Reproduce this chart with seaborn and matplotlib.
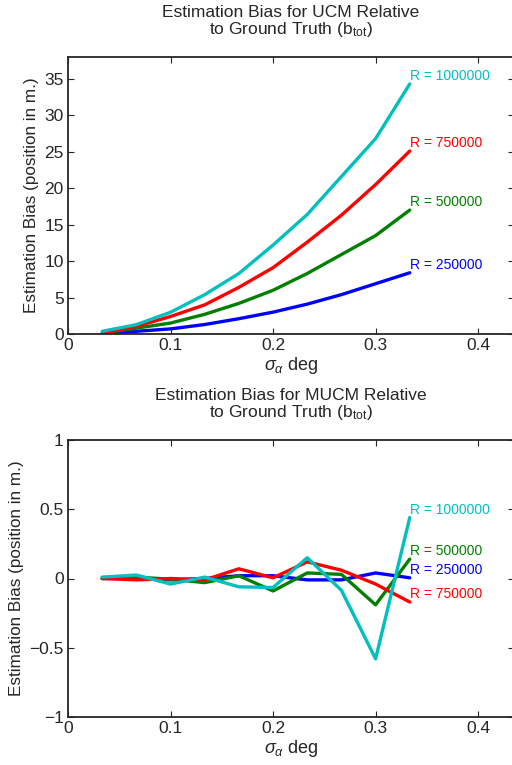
import numpy as np
import pandas as pd
import matplotlib
matplotlib.use("Agg")
import matplotlib.pyplot as plt
import seaborn as sns

# datos
sigma = [1/30, 2/30, 3/30, 4/30, 5/30, 6/30, 7/30, 8/30, 9/30, 10/30]
labels = ["R = 250000", "R = 500000", "R = 750000", "R = 1000000"]
colores = ["#0000ff", "#008000", "#ff0000", "#00bfbf"]

ucm_250 = [0.0, 0.37, 0.7, 1.3, 2.1, 3.0, 4.1, 5.4, 6.9, 8.4]
ucm_500 = [0.1, 0.8, 1.5, 2.7, 4.2, 6.0, 8.3, 10.9, 13.5, 17.0]
ucm_750 = [0.1, 1.05, 2.4, 4.0, 6.4, 9.1, 12.6, 16.3, 20.5, 25.1]
ucm_1000 = [0.37, 1.28, 2.98, 5.4, 8.3, 12.2, 16.4, 21.6, 26.8, 34.3]

mucm_250 = [0.0, 0.0, -0.01, 0.0, 0.02, 0.02, -0.01, -0.01, 0.04, 0.005]
mucm_500 = [0.0, 0.01, -0.005, -0.03, 0.02, -0.09, 0.04, 0.03, -0.19, 0.14]
mucm_750 = [0.0, -0.01, 0.0, -0.01, 0.07, 0.005, 0.12, 0.06, -0.04, -0.17]
mucm_1000 = [0.01, 0.025, -0.04, 0.01, -0.06, -0.065, 0.15, -0.085, -0.58, 0.44]

sns.set_style("ticks")
plt.rcParams["font.family"] = ["Liberation Sans", "DejaVu Sans"]
plt.rcParams["mathtext.fontset"] = "custom"
plt.rcParams["mathtext.rm"] = "Liberation Sans"
plt.rcParams["mathtext.it"] = "Liberation Sans:italic"
plt.rcParams["mathtext.sf"] = "Liberation Sans"


def armar_df(series):
    filas = []
    for lab, vals in zip(labels, series):
        for x, y in zip(sigma, vals):
            filas.append({"sigma": x, "bias": y, "R": lab})
    return pd.DataFrame(filas)


def dibujar(ax, series, titulo, ylim, yticks):
    df = armar_df(series)
    sns.lineplot(data=df, x="sigma", y="bias", hue="R", palette=colores,
                 linewidth=2.4, legend=False, ax=ax)
    for lab, vals, c in zip(labels, series, colores):
        ax.annotate(lab, (sigma[-1], vals[-1]), xytext=(0, 5.5),
                    textcoords="offset points", color=c, fontsize=10,
                    ha="left", va="center", annotation_clip=False)
    ax.set_xlim(0, 0.435)
    ax.set_ylim(*ylim)
    ax.set_xticks([0, 0.1, 0.2, 0.3, 0.4])
    ax.set_xticklabels(["0", "0.1", "0.2", "0.3", "0.4"])
    ax.set_yticks(yticks)
    ax.tick_params(direction="in", top=True, right=True, labelsize=12.5,
                   length=4, width=0.8, pad=3)
    for s in ax.spines.values():
        s.set_linewidth(1.3)
    ax.set_title(titulo, fontsize=12.5, pad=16.5, linespacing=1.0)
    ax.set_xlabel(r"$\sigma_{\alpha}$ deg", fontsize=13, labelpad=1)
    ax.set_ylabel("Estimation Bias (position in m.)", fontsize=12.3, labelpad=4)


fig = plt.figure(figsize=(5.12, 7.65), dpi=100)
ax1 = fig.add_axes([68/512, 431/765, 446/512, 277/765])
ax2 = fig.add_axes([68/512, 48/765, 446/512, 277/765])

dibujar(ax1, [ucm_250, ucm_500, ucm_750, ucm_1000],
        "Estimation Bias for UCM Relative\nto Ground Truth (b$_{\\mathrm{tot}}$)",
        (0, 38), [0, 5, 10, 15, 20, 25, 30, 35])
dibujar(ax2, [mucm_250, mucm_500, mucm_750, mucm_1000],
        "Estimation Bias for MUCM Relative\nto Ground Truth (b$_{\\mathrm{tot}}$)",
        (-1, 1), [-1, -0.5, 0, 0.5, 1])
ax2.set_yticklabels(["\u22121", "\u22120.5", "0", "0.5", "1"])

fig.savefig("out.png", dpi=100)
